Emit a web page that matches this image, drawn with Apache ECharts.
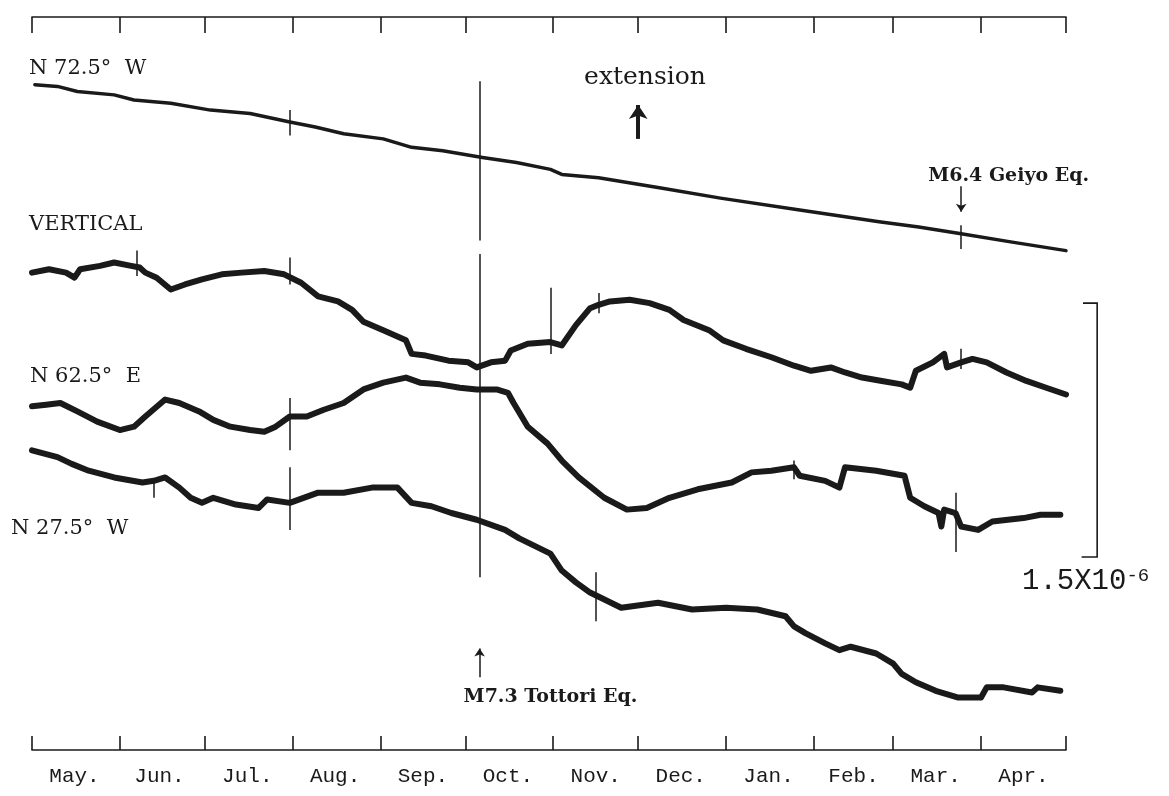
<!DOCTYPE html>
<html>
<head>
<meta charset="utf-8">
<title>Strain records</title>
<script src="https://cdn.jsdelivr.net/npm/echarts@6/dist/echarts.min.js"></script>
<style>
  html, body { margin: 0; padding: 0; background: #fff; }
  #chart { width: 1169px; height: 796px; }
</style>
</head>
<body>
<div id="chart"></div>
<script>
// x = days counted from May 1, y = strain in 1e-8 (each trace carries its own offset)
var monthStarts = [0, 31, 61, 92, 123, 153, 184, 214, 245, 276, 304, 335, 365]
var monthMids = [15, 45, 76, 107, 138, 168, 199, 229, 260, 290, 319, 350]
var monthNames = ['May.', 'Jun.', 'Jul.', 'Aug.', 'Sep.', 'Oct.', 'Nov.', 'Dec.', 'Jan.', 'Feb.', 'Mar.', 'Apr.']

var n72w = [[1, 393], [9, 392], [16, 389], [29, 387], [36, 384], [49, 382], [63, 378], [77, 376], [91, 371], [100, 368], [110, 364], [124, 361], [134, 356], [145, 354], [159, 350], [171, 347], [183, 343], [187, 340], [200, 338], [222, 332], [243, 326], [271, 319], [299, 312], [313, 309], [328, 305], [346, 300], [365, 295]]

var vertical = [[0, 282], [6, 284], [12, 282], [15, 279], [17, 284], [24, 286], [29, 288], [35, 286], [38, 285], [40, 282], [44, 279], [49, 272], [54, 275], [60, 278], [67, 281], [74, 282], [82, 283], [89, 281], [95, 276], [101, 268], [108, 265], [113, 260], [117, 253], [124, 248], [132, 242], [134, 234], [139, 233], [147, 230], [154, 229], [157, 226], [162, 229], [167, 230], [169, 236], [175, 240], [183, 241], [187, 239], [192, 251], [197, 261], [200, 263], [204, 265], [211, 266], [218, 264], [225, 260], [230, 254], [239, 248], [244, 242], [252, 237], [261, 232], [269, 227], [275, 224], [282, 226], [287, 223], [293, 220], [300, 218], [307, 216], [310, 214], [312, 224], [318, 229], [322, 234], [323, 226], [328, 229], [332, 231], [337, 229], [344, 223], [351, 218], [358, 214], [365, 210]]

var n62e = [[0, 203], [5, 204], [10, 205], [16, 200], [23, 194], [31, 189], [36, 191], [40, 197], [47, 207], [52, 205], [59, 200], [64, 195], [70, 191], [77, 189], [82, 188], [86, 191], [91, 197], [97, 197], [103, 201], [110, 205], [117, 213], [124, 217], [132, 220], [137, 217], [144, 216], [151, 214], [157, 213], [164, 213], [168, 211], [170, 205], [175, 191], [182, 181], [187, 171], [193, 161], [202, 149], [210, 142], [217, 143], [225, 149], [235, 154], [247, 158], [254, 164], [261, 165], [269, 167], [271, 162], [280, 159], [285, 155], [287, 167], [298, 165], [308, 162], [310, 149], [315, 144], [320, 140], [321, 132], [322, 142], [326, 140], [328, 132], [334, 130], [339, 135], [350, 137], [356, 139], [363, 139]]

var n27w = [[0, 177], [9, 173], [14, 169], [20, 165], [29, 161], [39, 158], [43, 159], [47, 161], [52, 155], [56, 149], [60, 146], [64, 149], [72, 145], [80, 143], [83, 148], [91, 146], [101, 152], [110, 152], [120, 155], [129, 155], [134, 146], [141, 144], [148, 140], [157, 136], [167, 130], [172, 125], [183, 116], [187, 106], [192, 99], [197, 93], [208, 84], [221, 87], [233, 83], [245, 84], [256, 83], [266, 79], [269, 73], [273, 69], [280, 63], [285, 59], [289, 61], [298, 57], [304, 51], [307, 45], [312, 40], [319, 35], [327, 31], [335, 31], [337, 37], [343, 37], [353, 34], [355, 37], [363, 35]]

// offsets / time marks: [day, low, high]
var n72wSpikes = [[91, 363, 378], [328, 296, 310]]
var verticalSpikes = [[37, 280, 295], [91, 275, 291], [183, 234, 273], [200, 258, 270], [328, 225, 237]]
var n62eSpikes = [[91, 177, 208], [269, 160, 171], [326, 117, 152]]
var n27wSpikes = [[43, 149, 160], [91, 130, 167], [199, 76, 105]]

var tottoriDay = 158
var geiyoDay = 328
var scaleTop = 264
var scaleSpan = 150 // 1.5 x 10^-6

var ink = '#1a1a1a'

function spikeLines(list) {
  return list.map(function (s) {
    return [{ coord: [s[0], s[1]] }, { coord: [s[0], s[2]] }]
  })
}

function trace(name, data, spikes, width, extra) {
  var lines = spikeLines(spikes).concat(extra || [])
  return {
    name: name,
    type: 'line',
    data: data,
    showSymbol: false,
    silent: true,
    lineStyle: { color: ink, width: width, join: 'round', cap: 'round' },
    markLine: {
      silent: true,
      symbol: 'none',
      animation: false,
      label: { show: false },
      lineStyle: { color: ink, width: 1.5, type: 'solid' },
      data: lines
    }
  }
}

var chart = echarts.init(document.getElementById('chart'))

var option = {
  backgroundColor: '#fff',
  animation: false,
  grid: { left: 32, right: 103, top: 17, bottom: 46 },
  xAxis: [{
    type: 'value',
    min: 0,
    max: 365,
    position: 'bottom',
    axisLine: { onZero: false, lineStyle: { color: ink, width: 1.6 } },
    axisTick: { inside: true, length: 14, customValues: monthStarts, lineStyle: { color: ink, width: 1.6 } },
    axisLabel: {
      customValues: monthMids,
      formatter: function (v) { return monthNames[monthMids.indexOf(v)] },
      margin: 16,
      fontFamily: 'Liberation Mono',
      fontSize: 21,
      color: ink
    },
    splitLine: { show: false }
  }, {
    type: 'value',
    min: 0,
    max: 365,
    position: 'top',
    axisLine: { onZero: false, lineStyle: { color: ink, width: 1.6 } },
    axisTick: { inside: true, length: 16, customValues: monthStarts, lineStyle: { color: ink, width: 1.6 } },
    axisLabel: { show: false },
    splitLine: { show: false }
  }],
  yAxis: { type: 'value', min: 0, max: 433, show: false },
  series: [
    trace('N 72.5° W', n72w, n72wSpikes, 3.5, [
      // Tottori event line
      [{ coord: [tottoriDay, 395] }, { coord: [tottoriDay, 301] }],
      [{ coord: [tottoriDay, 293] }, { coord: [tottoriDay, 102] }]
    ]),
    trace('VERTICAL', vertical, verticalSpikes, 6),
    trace('N 62.5° E', n62e, n62eSpikes, 6),
    trace('N 27.5° W', n27w, n27wSpikes, 6),
    {
      name: 'arrows',
      type: 'line',
      data: [],
      markLine: {
        silent: true,
        animation: false,
        label: { show: false },
        symbol: ['none', 'arrow'],
        data: [
          [{ coord: [tottoriDay, 43] }, { coord: [tottoriDay, 60], symbolSize: 8 }],
          [{ coord: [geiyoDay, 333] }, { coord: [geiyoDay, 318], symbolSize: 8 }],
          [{ coord: [214, 361], lineStyle: { width: 4 } }, { coord: [214, 381], symbolSize: 14 }]
        ],
        lineStyle: { color: ink, width: 1.5, type: 'solid' }
      }
    }
  ]
}

chart.setOption(option)

function px(d, v) {
  return chart.convertToPixel({ seriesIndex: 0 }, [d, v])
}

var serif = '"DejaVu Serif", serif'
var labelFont = '21px ' + serif
var quakeFont = 'bold 19px ' + serif

var barTop = px(376, scaleTop)
var barBottom = px(376, scaleTop - scaleSpan)
var stubTop = px(371, scaleTop)
var stubBottom = px(370.5, scaleTop - scaleSpan)
var tottoriText = px(tottoriDay, 31)
var geiyoText = px(geiyoDay, 339)

chart.setOption({
  graphic: [
    { type: 'text', x: 29, y: 69, style: { text: 'N 72.5°  W', font: labelFont, fill: ink, verticalAlign: 'middle' } },
    { type: 'text', x: 29, y: 225, style: { text: 'VERTICAL', font: labelFont, fill: ink, verticalAlign: 'middle' } },
    { type: 'text', x: 30, y: 377, style: { text: 'N 62.5°  E', font: labelFont, fill: ink, verticalAlign: 'middle' } },
    { type: 'text', x: 11, y: 529, style: { text: 'N 27.5°  W', font: labelFont, fill: ink, verticalAlign: 'middle' } },
    { type: 'text', x: 645, y: 77, style: { text: 'extension', font: '25px ' + serif, fill: ink, align: 'center', verticalAlign: 'middle' } },
    { type: 'text', x: tottoriText[0] - 16, y: tottoriText[1], style: { text: 'M7.3 Tottori Eq.', font: quakeFont, fill: ink, verticalAlign: 'middle' } },
    { type: 'text', x: geiyoText[0] - 33, y: geiyoText[1], style: { text: 'M6.4 Geiyo Eq.', font: quakeFont, fill: ink, verticalAlign: 'middle' } },
    {
      type: 'polyline',
      shape: { points: [stubTop, barTop, barBottom, stubBottom] },
      style: { stroke: ink, lineWidth: 1.6, fill: null }
    },
    {
      type: 'text',
      x: 1022,
      y: barBottom[1] + 24,
      style: {
        text: '{a|1.5X10}{b|-6}',
        fill: ink,
        verticalAlign: 'middle',
        rich: {
          a: { fontFamily: 'Liberation Mono', fontSize: 29, fill: ink },
          b: { fontFamily: 'Liberation Mono', fontSize: 19, fill: ink, verticalAlign: 'top' }
        }
      }
    }
  ]
})
</script>
</body>
</html>
